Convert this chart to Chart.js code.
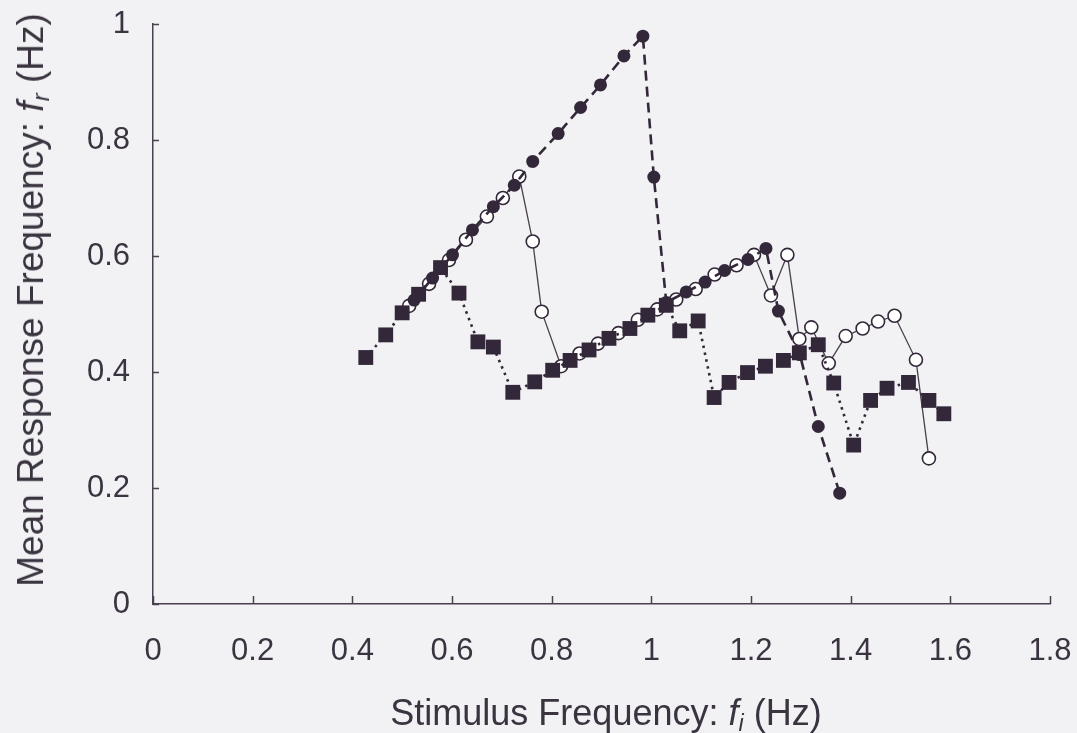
<!DOCTYPE html>
<html>
<head>
<meta charset="utf-8">
<script src="https://cdn.jsdelivr.net/npm/chart.js@4.4.1/dist/chart.umd.min.js"></script>
<style>
  html, body { margin:0; padding:0; background:#f2f1f3; }
  #wrap { position:relative; width:1077px; height:733px; overflow:hidden; }
  canvas { position:absolute; left:0; top:0; }
  .ttl { position:absolute; font-family:"Liberation Sans", Arial, sans-serif; color:#3a3440; white-space:nowrap; line-height:36px; }
  #ytitle { font-size:37px; left:31px; top:300px; transform:translate(-50%,-50%) rotate(-90deg); }
  #xtitle { font-size:36px; left:606px; top:713px; transform:translate(-50%,-50%); }
  sub { font-size:65%; vertical-align:-0.25em; line-height:0; }
</style>
</head>
<body>
<div id="wrap">
  <canvas id="c" width="1077" height="733"></canvas>
  <div class="ttl" id="ytitle">Mean Response Frequency: <i>f</i><sub><i>r</i></sub> (Hz)</div>
  <div class="ttl" id="xtitle">Stimulus Frequency: <i>f</i><sub><i>i</i></sub> (Hz)</div>
</div>
<script>
// Tick labels
const xTickLabels = ['0','0.2','0.4','0.6','0.8','1','1.2','1.4','1.6','1.8'];
const yTickLabels = ['0','0.2','0.4','0.6','0.8','1'];

// Series A: filled circles, dashed line
const filledX = [0.524,0.561,0.601,0.641,0.683,0.725,0.762,0.813,0.858,0.898,0.945,0.983,1.005,1.030,1.070,1.108,1.147,1.194,1.230,1.255,1.298,1.335,1.378];
const filledY = [0.524,0.562,0.602,0.645,0.685,0.722,0.763,0.811,0.856,0.895,0.945,0.979,0.736,0.520,0.538,0.555,0.575,0.594,0.613,0.505,0.430,0.306,0.191];

// Series B: open circles, thin solid line
const openX = [0.514,0.554,0.594,0.628,0.670,0.702,0.735,0.762,0.780,0.819,0.856,0.893,0.934,0.973,1.012,1.050,1.089,1.127,1.171,1.206,1.240,1.273,1.297,1.321,1.356,1.390,1.424,1.455,1.488,1.531,1.557];
const openY = [0.514,0.552,0.593,0.628,0.668,0.700,0.737,0.625,0.504,0.410,0.432,0.449,0.467,0.490,0.508,0.525,0.543,0.568,0.584,0.602,0.532,0.602,0.457,0.477,0.415,0.462,0.475,0.487,0.497,0.421,0.251];

// Series C: filled squares, dotted line
const squareX = [0.427,0.467,0.500,0.533,0.577,0.614,0.652,0.683,0.722,0.766,0.802,0.837,0.875,0.915,0.957,0.993,1.030,1.057,1.094,1.126,1.156,1.193,1.229,1.265,1.297,1.335,1.366,1.406,1.440,1.473,1.516,1.557,1.587];
const squareY = [0.425,0.464,0.502,0.534,0.580,0.536,0.452,0.443,0.365,0.383,0.403,0.420,0.438,0.458,0.475,0.498,0.515,0.471,0.488,0.356,0.382,0.399,0.410,0.420,0.433,0.447,0.381,0.274,0.351,0.372,0.382,0.351,0.328];

const toPts = (xs, ys) => xs.map((x, i) => ({ x: x, y: ys[i] }));

const ink = '#33283a';
const textCol = '#3a3440';
const axisCol = '#4a4050';

const inwardTicks = {
  id: 'inwardTicks',
  afterDraw(chart) {
    const ctx = chart.ctx;
    const xs = chart.scales.x, ys = chart.scales.y;
    ctx.save();
    ctx.strokeStyle = axisCol;
    ctx.lineWidth = 1.5;
    ctx.beginPath();
    xs.ticks.forEach(t => {
      const px = Math.round(xs.getPixelForValue(t.value)) + 0.5;
      ctx.moveTo(px, ys.bottom);
      ctx.lineTo(px, ys.bottom - 8);
    });
    ys.ticks.forEach(t => {
      const py = Math.round(ys.getPixelForValue(t.value)) + 0.5;
      ctx.moveTo(xs.left, py);
      ctx.lineTo(xs.left + 6, py);
    });
    ctx.stroke();
    ctx.restore();
  }
};

new Chart(document.getElementById('c'), {
  type: 'scatter',
  data: {
    datasets: [
      {
        label: 'squares',
        data: toPts(squareX, squareY),
        showLine: true,
        borderColor: ink,
        borderWidth: 2.6,
        borderDash: [2.5, 4.5],
        pointStyle: 'rect',
        pointRadius: 10.5,
        pointBackgroundColor: ink,
        pointBorderColor: ink,
        pointBorderWidth: 0,
        tension: 0
      },
      {
        label: 'filled',
        data: toPts(filledX, filledY),
        showLine: true,
        borderColor: ink,
        borderWidth: 2.6,
        borderDash: [10, 6],
        pointStyle: 'circle',
        pointRadius: 6.5,
        pointBackgroundColor: ink,
        pointBorderColor: ink,
        pointBorderWidth: 0,
        tension: 0
      },
      {
        label: 'open',
        data: toPts(openX, openY),
        showLine: true,
        borderColor: '#4a3f4c',
        borderWidth: 1.3,
        pointStyle: 'circle',
        pointRadius: 6.5,
        pointBackgroundColor: '#ffffff',
        pointBorderColor: ink,
        pointBorderWidth: 1.6,
        tension: 0
      }
    ]
  },
  options: {
    responsive: false,
    animation: false,
    devicePixelRatio: 1,
    layout: { padding: { top: 24, right: 27, left: 0, bottom: 0 } },
    plugins: { legend: { display: false }, tooltip: { enabled: false }, title: { display: false } },
    scales: {
      x: {
        type: 'linear',
        min: 0, max: 1.8,
        afterFit(s) { s.height = 129; s.paddingLeft = 0; s.paddingRight = 0; s.paddingTop = 0; s.paddingBottom = 0; },
        afterBuildTicks(s) { s.ticks = xTickLabels.map(v => ({ value: parseFloat(v) })); },
        grid: { display: false, drawTicks: false },
        border: { display: true, color: axisCol, width: 1.5 },
        ticks: {
          padding: 29,
          color: textCol,
          font: { family: '"Liberation Sans", Arial, sans-serif', size: 31 },
          callback: (v, i) => xTickLabels[i]
        }
      },
      y: {
        type: 'linear',
        min: 0, max: 1,
        afterFit(s) { s.width = 153; s.paddingLeft = 0; s.paddingRight = 0; s.paddingTop = 0; s.paddingBottom = 0; },
        afterBuildTicks(s) { s.ticks = yTickLabels.map(v => ({ value: parseFloat(v) })); },
        grid: { display: false, drawTicks: false },
        border: { display: true, color: axisCol, width: 1.5 },
        ticks: {
          padding: 23,
          color: textCol,
          font: { family: '"Liberation Sans", Arial, sans-serif', size: 31 },
          callback: (v, i) => yTickLabels[i]
        }
      }
    }
  },
  plugins: [inwardTicks]
});
</script>
</body>
</html>
